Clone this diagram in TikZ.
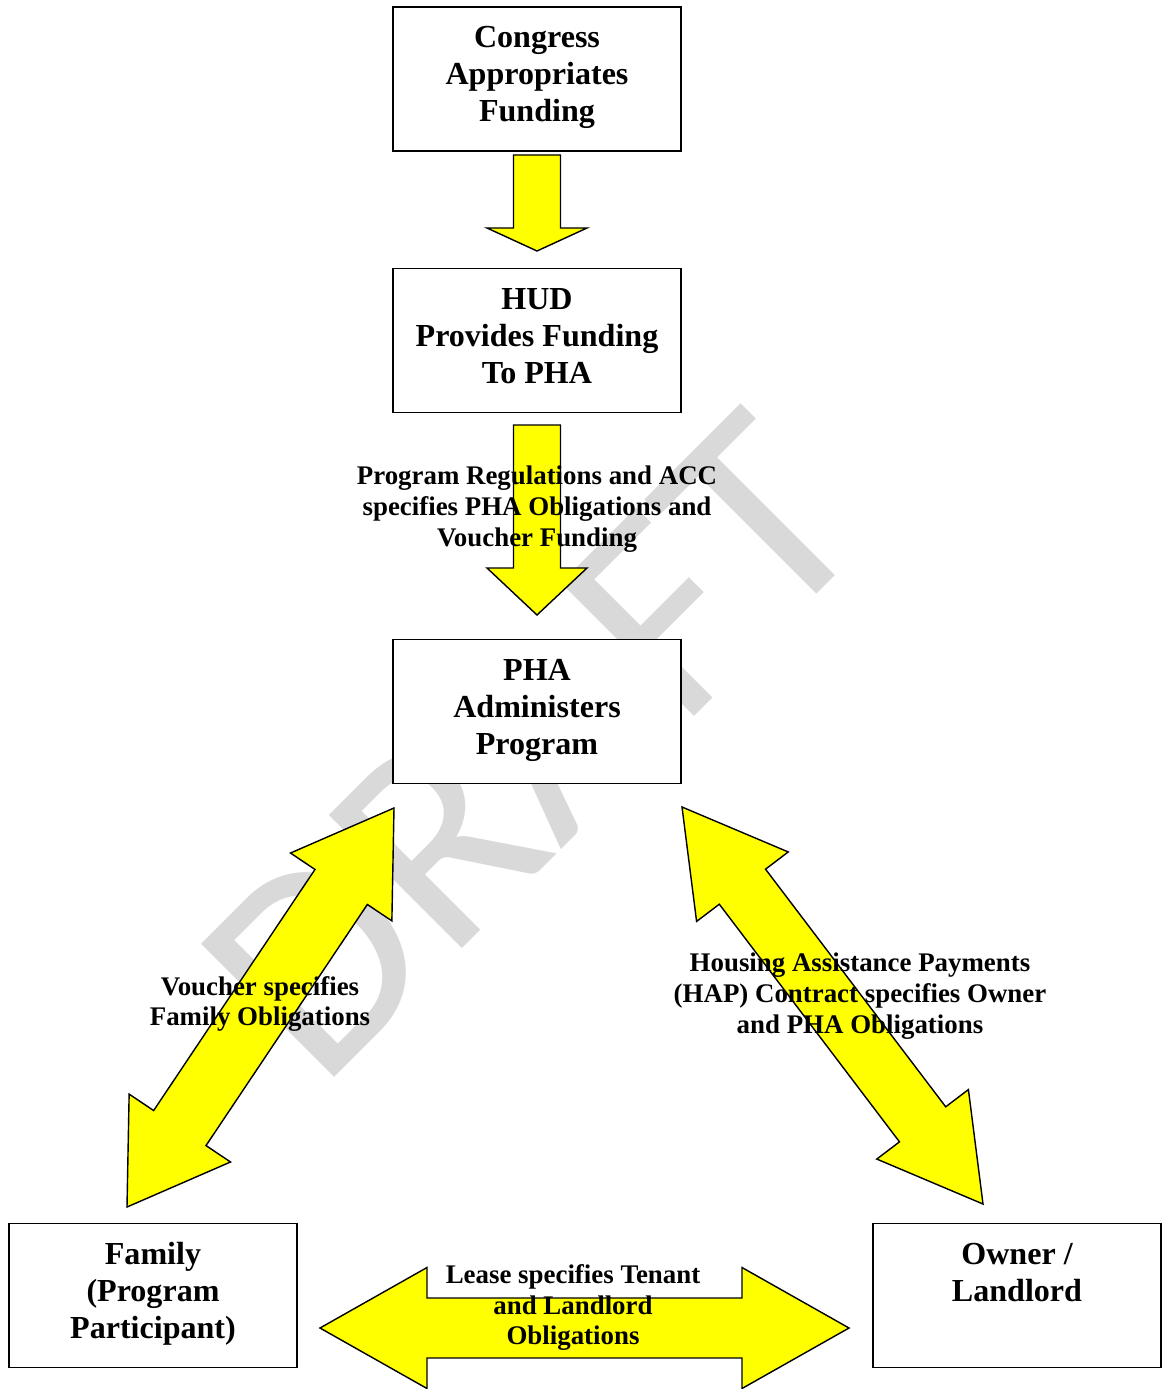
\documentclass[tikz,border=0pt]{standalone}
\usepackage{fontspec}
\setmainfont{Liberation Serif}
\newfontfamily\wmfont{Carlito}
\usetikzlibrary{calc}

\definecolor{arrowyellow}{RGB}{255,255,0}
\definecolor{wmgray}{RGB}{217,217,217}

\tikzset{
    stagebox/.style={draw, fill=white, line width=1pt, inner sep=0pt,
        minimum width=57.6mm, minimum height=28.8mm,
        font=\bfseries\fontsize{18.25}{21}\selectfont},
    blockarrow/.style={draw, fill=arrowyellow, line width=.8pt, line join=miter},
    note/.style={align=center, inner sep=0pt,
        font=\bfseries\fontsize{15.3}{17.6}\selectfont},
    watermark/.style={rotate=45, text=wmgray, inner sep=0pt,
        font=\wmfont\fontsize{167}{167}\selectfont}
}

% top aligned text in a box
\newcommand{\boxlines}[1]{\parbox[c][28.8mm][t]{57.6mm}{\centering\rule{0pt}{8.2mm}#1}}
% block arrow: base, tip, shaft half width, head half width, head length
\newcommand{\arrowblock}[5]{%
    \path ($(#2)!#5!(#1)$) coordinate (hb);
    \draw[blockarrow] ($(#1)!#3!90:(#2)$) -- ($(hb)!#3!90:(#2)$) -- ($(hb)!#4!90:(#2)$)
        -- (#2) -- ($(hb)!#4!-90:(#2)$) -- ($(hb)!#3!-90:(#2)$) -- ($(#1)!#3!-90:(#2)$) -- cycle;
}
% double block arrow: tip, tip, shaft half width, head half width, head length
\newcommand{\dblarrowblock}[5]{%
    \path ($(#1)!#5!(#2)$) coordinate (ha) ($(#2)!#5!(#1)$) coordinate (hb);
    \draw[blockarrow] (#1) -- ($(ha)!#4!90:(#2)$) -- ($(ha)!#3!90:(#2)$) -- ($(hb)!#3!90:(#2)$)
        -- ($(hb)!#4!90:(#2)$) -- (#2) -- ($(hb)!#4!-90:(#2)$) -- ($(hb)!#3!-90:(#2)$)
        -- ($(ha)!#3!-90:(#2)$) -- ($(ha)!#4!-90:(#2)$) -- cycle;
}

\begin{document}
\begin{tikzpicture}[x=0.2mm, y=-0.2mm]
    \useasboundingbox (0,0) rectangle (1163,1389);
    % Watermark
    \node[watermark] (draft) at (532,746) {DRAFT};
    % Boxes
    \foreach \nm/\x/\y/\txt in {congress/537/79/{Congress\\Appropriates\\Funding},
            hud/537/340.5/{HUD\\Provides Funding\\To PHA},
            pha/537/711.5/{PHA\\Administers\\Program},
            family/153/1295.5/{Family\\(Program\\Participant)},
            owner/1017/1295.5/{Owner /\\Landlord}}
        \node[stagebox] (\nm) at (\x,\y) {\boxlines{\txt}};
    % Arrow ends
    \coordinate (fundbase) at (537,155);
    \coordinate (fundtip) at (537,251);
    \coordinate (regbase) at (537,425);
    \coordinate (regtip) at (537,615);
    \coordinate (vouchtop) at (394,808);
    \coordinate (vouchbot) at (127,1207);
    \coordinate (haptop) at (682,807);
    \coordinate (hapbot) at (983,1204);
    \coordinate (leaseleft) at (320,1328);
    \coordinate (leaseright) at (849,1328);
    % Arrows
    \arrowblock{fundbase}{fundtip}{4.7mm}{10mm}{4.6mm}
    \arrowblock{regbase}{regtip}{4.7mm}{10mm}{9.4mm}
    \dblarrowblock{vouchtop}{vouchbot}{6.3mm}{12.2mm}{19mm}
    \dblarrowblock{haptop}{hapbot}{5.8mm}{11.5mm}{20mm}
    \dblarrowblock{leaseleft}{leaseright}{6mm}{12.1mm}{21.4mm}
    % Labels
    \node[note] (reglabel) at (537,509) {Program Regulations and ACC\\specifies PHA Obligations and\\Voucher Funding};
    \node[note] (vouchlabel) at (260,1004) {Voucher specifies\\Family Obligations};
    \node[note] (haplabel) at (860,996) {Housing Assistance Payments\\(HAP) Contract specifies Owner\\and PHA Obligations};
    \node[note] (leaselabel) at (573,1307.5) {Lease specifies Tenant\\and Landlord\\Obligations};
\end{tikzpicture}
\end{document}
